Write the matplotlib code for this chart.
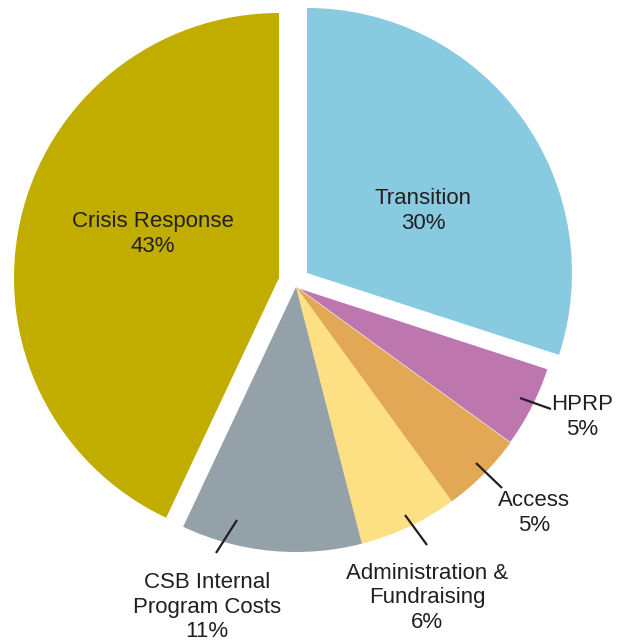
import numpy as np
import matplotlib.pyplot as plt

plt.rcParams['font.family'] = ['Liberation Sans', 'DejaVu Sans']

# data
categories = ['Transition', 'HPRP', 'Access', 'Administration &\nFundraising',
              'CSB Internal\nProgram Costs', 'Crisis Response']
shares = [30, 5, 5, 6, 11, 43]
colors = ['#88CBE1', '#BE76AE', '#E2A856', '#FEE084', '#95A1A9', '#C1AD00']

W, H = 622, 644
fig = plt.figure(figsize=(W / 100, H / 100), dpi=100)
ax = fig.add_axes([0, 0, 1, 1])

cx, cy, r = 296, H - 287, 265
wedges, _ = ax.pie(shares, colors=colors, startangle=90, counterclock=False,
                   center=(cx, cy), radius=r, frame=True,
                   wedgeprops=dict(linewidth=0))

# pull the two big slices out of the pie
wedges[0].set_center((cx + 11, cy + 14))
wedges[5].set_center((cx - 17, cy + 9))
# thin white seam between HPRP and Access
wedges[1].set_edgecolor('white')
wedges[1].set_linewidth(0.8)

txt = '#231F20'
fs = 16

# inside labels
ax.text(423, H - 211, f'{categories[0]}\n{shares[0]}%', ha='center', va='center',
        fontsize=fs, color=txt, linespacing=1.2)
ax.text(153, H - 234, f'{categories[5]}\n{shares[5]}%', ha='center', va='center',
        fontsize=fs, color=txt, linespacing=1.2)

# outside labels with leader lines: (text pos, line start, line end)
outside = {
    1: ((582, 417), (520, 398), (551, 409)),
    2: ((534, 513), (476, 463), (502, 488)),
    3: ((427, 598), (405, 515), (427, 545)),
    4: ((207, 607), (237, 520), (216, 553)),
}
for i, (tp, p0, p1) in outside.items():
    ax.plot([p0[0], p1[0]], [H - p0[1], H - p1[1]], color=txt, lw=1.6,
            solid_capstyle='butt')
    ax.text(tp[0], H - tp[1], f'{categories[i]}\n{shares[i]}%', ha='center',
            va='center', fontsize=fs, color=txt, linespacing=1.2)

ax.set_xlim(0, W)
ax.set_ylim(0, H)
ax.set_aspect('equal')
ax.set_axis_off()

fig.savefig('out.png', dpi=100)
